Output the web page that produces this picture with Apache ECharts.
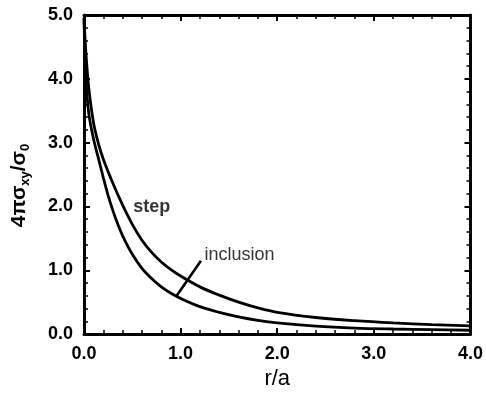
<!DOCTYPE html>
<html>
<head>
<meta charset="utf-8">
<script src="https://cdn.jsdelivr.net/npm/echarts@6/dist/echarts.min.js"></script>
<style>html,body{margin:0;padding:0;background:#fff;}#c{width:486px;height:395px;}</style>
</head>
<body>
<div id="c"></div>
<script>
// r/a values and stress values
var stepX = [0, 0.02, 0.05, 0.1, 0.15, 0.2, 0.3, 0.4, 0.5, 0.6, 0.7, 0.8, 0.9, 1.0, 1.2, 1.4, 1.6, 1.8, 2.0, 2.4, 2.8, 3.2, 3.6, 4.0];
var stepY = [4.95, 4.4, 3.85, 3.3, 2.98, 2.74, 2.36, 2.02, 1.72, 1.47, 1.28, 1.13, 1.01, 0.91, 0.74, 0.61, 0.5, 0.41, 0.34, 0.26, 0.21, 0.175, 0.15, 0.13];
var inclX = [0, 0.02, 0.05, 0.1, 0.15, 0.2, 0.25, 0.3, 0.35, 0.4, 0.5, 0.6, 0.7, 0.8, 0.9, 1.0, 1.2, 1.4, 1.6, 1.8, 2.0, 2.4, 2.8, 3.2, 3.6, 4.0];
var inclY = [4.95, 4.0, 3.45, 3.05, 2.75, 2.45, 2.17, 1.93, 1.72, 1.54, 1.25, 1.03, 0.87, 0.74, 0.64, 0.56, 0.43, 0.34, 0.27, 0.215, 0.175, 0.125, 0.095, 0.08, 0.07, 0.06];
var xTicks = [0, 1, 2, 3, 4];
var yTicks = [0, 1, 2, 3, 4, 5];
var labelNames = ['step', 'inclusion'];
var labelPos = [[0.70, 1.99], [1.61, 1.24]];
var arrowFrom = [1.21, 1.15];
var arrowTo = [0.95, 0.58];

function zip(a, b) { return a.map(function (v, i) { return [v, b[i]]; }); }

var FF = 'Liberation Sans, Arial, sans-serif';
var chart = echarts.init(document.getElementById('c'), null, { renderer: 'canvas' });
var tickFont = { fontFamily: FF, fontWeight: 'bold', fontSize: 18, color: '#000' };
function baseAxis(extra) {
  var o = {
    type: 'value',
    axisLine: { show: true, onZero: false, lineStyle: { color: '#000', width: 3 } },
    axisTick: { show: true, inside: true, length: 6, lineStyle: { color: '#000', width: 2 } },
    minorTick: { show: true, splitNumber: 5, length: 4, lineStyle: { color: '#000', width: 1.5 } },
    splitLine: { show: false }
  };
  for (var k in extra) o[k] = extra[k];
  return o;
}

chart.setOption({
  animation: false,
  backgroundColor: '#fff',
  grid: { left: 84, right: 13, top: 15, bottom: 53 },
  xAxis: [
    baseAxis({ min: xTicks[0], max: xTicks[xTicks.length - 1], interval: 1, position: 'bottom',
      axisLabel: Object.assign({ margin: 11, formatter: function (v) { return v.toFixed(1); } }, tickFont),
      name: 'r/a', nameLocation: 'middle', nameGap: 25,
      nameTextStyle: { fontFamily: FF, fontSize: 22, color: '#000', verticalAlign: 'top' } }),
    baseAxis({ min: xTicks[0], max: xTicks[xTicks.length - 1], interval: 1, position: 'top', axisLabel: { show: false } })
  ],
  yAxis: [
    baseAxis({ min: yTicks[0], max: yTicks[yTicks.length - 1], interval: 1, position: 'left',
      axisLabel: Object.assign({ margin: 11, formatter: function (v) { return v.toFixed(1); } }, tickFont),
      name: '{a|4πσ}{s|xy}{a|/σ}{s|0}', nameLocation: 'middle', nameGap: 52, nameRotate: 90,
      nameTextStyle: {
        padding: [0, 22, 0, 0],
        rich: {
          a: { fontFamily: FF, fontWeight: 'bold', fontSize: 21, color: '#000', lineHeight: 23, verticalAlign: 'top' },
          s: { fontFamily: FF, fontWeight: 'bold', fontSize: 13, color: '#000', lineHeight: 13, verticalAlign: 'bottom' }
        }
      } }),
    baseAxis({ min: yTicks[0], max: yTicks[yTicks.length - 1], interval: 1, position: 'right', axisLabel: { show: false } })
  ],
  series: [
    { type: 'line', name: 'step', data: zip(stepX, stepY), smooth: 0.35, showSymbol: false, symbol: 'none',
      lineStyle: { color: '#000', width: 2.8 } },
    { type: 'line', name: 'inclusion', data: zip(inclX, inclY), smooth: 0.35, showSymbol: false, symbol: 'none',
      lineStyle: { color: '#000', width: 2.8 },
      markLine: {
        silent: true, animation: false,
        symbol: ['none', 'arrow'], symbolSize: [0, 8],
        lineStyle: { color: '#000', width: 2.6, type: 'solid' },
        label: { show: false },
        data: [[{ coord: arrowFrom }, { coord: arrowTo }]]
      } },
    { type: 'scatter', symbolSize: 0, silent: true,
      data: labelPos.map(function (p, i) {
        return { value: p, name: labelNames[i],
          label: { color: '#000', fontFamily: FF, fontSize: 18, fontWeight: i === 0 ? 'bold' : 'normal' } };
      }),
      label: { show: true, position: 'inside', formatter: function (p) { return p.name; },
        fontFamily: FF, fontSize: 18, color: '#000' } }
  ]
});
</script>
</body>
</html>
